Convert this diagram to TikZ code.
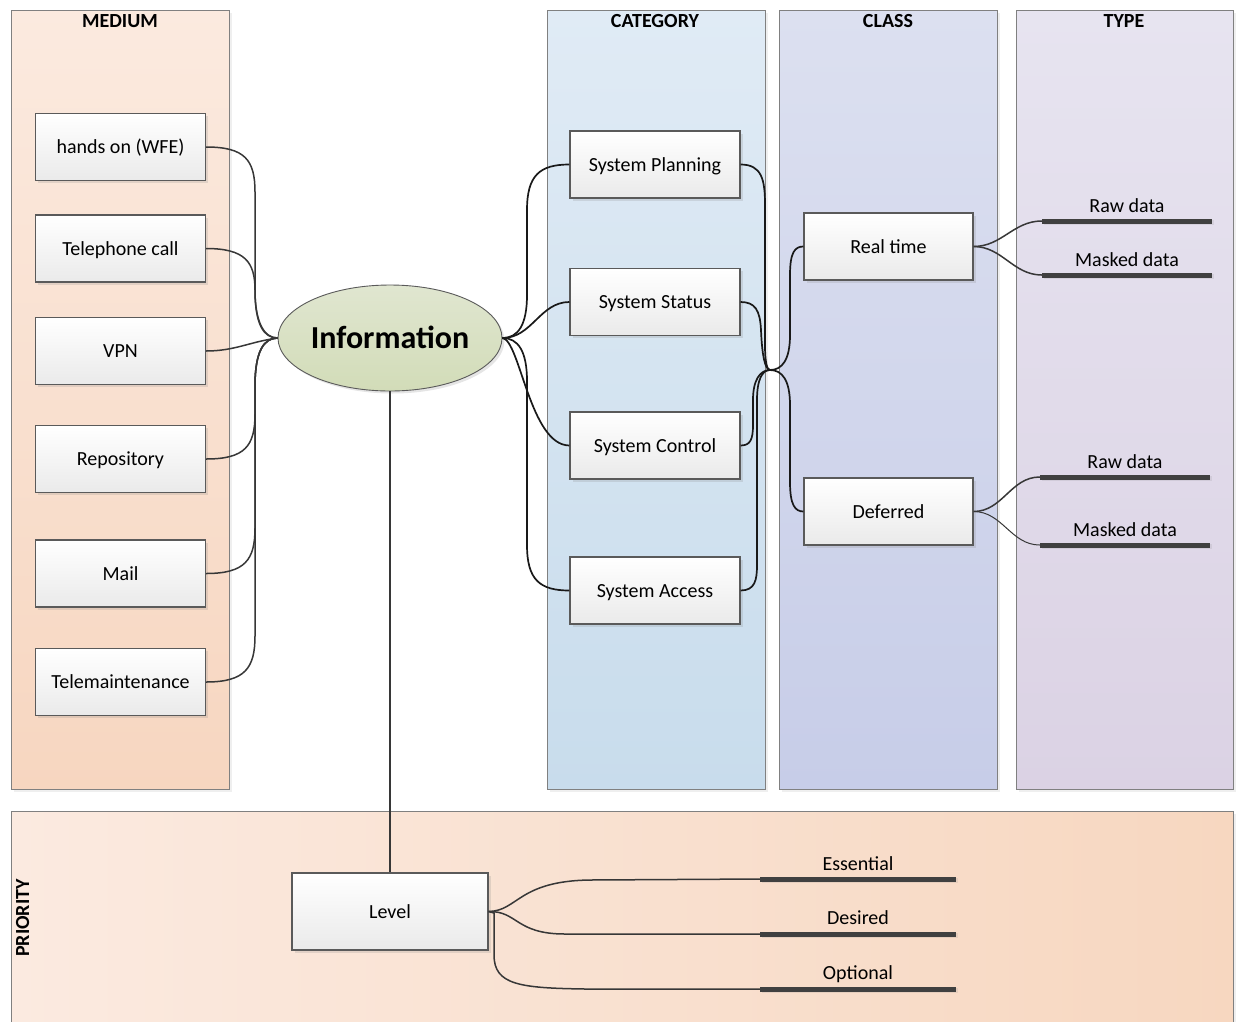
\documentclass[tikz,border=0pt]{standalone}
\usepackage{fontspec}
\setmainfont{Carlito}
\usetikzlibrary{shadows,calc,shapes.geometric}
\definecolor{medTop}{RGB}{251,234,223}
\definecolor{medBot}{RGB}{247,214,192}
\definecolor{catTop}{RGB}{224,235,245}
\definecolor{catBot}{RGB}{200,220,236}
\definecolor{clsTop}{RGB}{220,224,240}
\definecolor{clsBot}{RGB}{199,205,232}
\definecolor{typTop}{RGB}{231,228,240}
\definecolor{typBot}{RGB}{219,210,228}
\definecolor{priL}{RGB}{251,234,224}
\definecolor{priR}{RGB}{247,215,192}
\definecolor{ellTop}{RGB}{224,230,208}
\definecolor{ellBot}{RGB}{210,220,184}
\definecolor{boxBot}{RGB}{234,234,234}
\definecolor{edgeGray}{RGB}{90,90,90}
\definecolor{laneEdge}{RGB}{128,128,128}
\definecolor{wireGray}{RGB}{55,55,55}
\definecolor{barGray}{RGB}{64,64,64}
\begin{document}
\begin{tikzpicture}[x=1pt,y=-1pt,font=\fontsize{20}{24}\selectfont,
  lane/.style={draw=laneEdge, line width=0.9pt, anchor=north west, inner sep=0pt,
    drop shadow={shadow xshift=3pt, shadow yshift=-3pt, opacity=0.12}},
  lanehead/.style={font=\fontsize{20}{24}\selectfont\bfseries, anchor=base},
  itembox/.style={draw=edgeGray, line width=1.1pt, top color=white, bottom color=boxBot,
    minimum width=170pt, minimum height=67pt, inner sep=0pt, text height=13pt, text depth=0pt,
    drop shadow={shadow xshift=2.5pt, shadow yshift=-2.5pt, opacity=0.2}},
  barline/.style={fill=barGray, minimum width=170pt, minimum height=5pt, inner sep=0pt,
    drop shadow={shadow xshift=1.5pt, shadow yshift=-1.5pt, opacity=0.15}},
  barlabel/.style={anchor=base, inner sep=0pt},
  wire/.style={draw=wireGray, line width=1.5pt},
  wireb/.style={draw=black!90, line width=1.7pt}]
\useasboundingbox (0,0) rectangle (1237,1021);
\clip (0,0) rectangle (1237,1021);
\fill[white] (0,0) rectangle (1237,1021);

% lanes
\node[lane, minimum width=218pt, minimum height=779pt, top color=medTop, bottom color=medBot] (medium) at (11,10) {};
\node[lane, minimum width=218pt, minimum height=779pt, top color=catTop, bottom color=catBot] (category) at (547,10) {};
\node[lane, minimum width=218pt, minimum height=779pt, top color=clsTop, bottom color=clsBot] (class) at (779,10) {};
\node[lane, minimum width=217pt, minimum height=779pt, top color=typTop, bottom color=typBot] (type) at (1016,10) {};
\node[lane, minimum width=1222pt, minimum height=216pt, left color=priL, right color=priR] (priority) at (11,811) {};

\node[lanehead] (hmed) at (120,27.5) {MEDIUM};
\node[lanehead] (hcat) at (655,27.5) {CATEGORY};
\node[lanehead] (hcls) at (888,27.5) {CLASS};
\node[lanehead] (htyp) at (1124,27.5) {TYPE};
\node[lanehead, rotate=90] (hpri) at (29,918) {PRIORITY};

% medium boxes
\node[itembox] (m1) at (120.5,147) {hands on (WFE)};
\node[itembox] (m2) at (120.5,248.5) {Telephone call};
\node[itembox] (m3) at (120.5,351) {VPN};
\node[itembox] (m4) at (120.5,459) {Repository};
\node[itembox] (m5) at (120.5,573.5) {Mail};
\node[itembox] (m6) at (120.5,682) {Telemaintenance};

% central ellipse
\node[ellipse, draw=edgeGray, line width=0.9pt, top color=ellTop, bottom color=ellBot,
  minimum width=216pt, minimum height=106pt, inner sep=0pt, text height=21pt, text depth=0pt,
  drop shadow={shadow xshift=2.5pt, shadow yshift=-2.5pt, opacity=0.2},
  font=\fontsize{32}{38}\selectfont\bfseries] (info) at (390,338) {Information};

% category boxes
\node[itembox] (sp) at (655,164.5) {System Planning};
\node[itembox] (ss) at (655,302) {System Status};
\node[itembox] (sc) at (655,445.5) {System Control};
\node[itembox] (sa) at (655,590.5) {System Access};

% class boxes
\node[itembox, minimum width=169pt] (rt) at (888.5,246.5) {Real time};
\node[itembox, minimum width=169pt] (df) at (888.5,511.5) {Deferred};

% type bars
\node[barline] (t1) at (1127,221) {};
\node[barline] (t2) at (1127,275) {};
\node[barline] (t3) at (1125,477) {};
\node[barline] (t4) at (1125,545) {};
\node[barlabel] (l1) at (1127,212) {Raw data};
\node[barlabel] (l2) at (1127,266) {Masked data};
\node[barlabel] (l3) at (1125,468) {Raw data};
\node[barlabel] (l4) at (1125,536) {Masked data};

% priority
\node[itembox, minimum width=196pt, minimum height=77pt] (lvl) at (390,911.5) {Level};
\node[barline, minimum width=196pt] (ess) at (858,879) {};
\node[barline, minimum width=196pt] (des) at (858,934) {};
\node[barline, minimum width=196pt] (opt) at (858,989) {};
\node[barlabel] (le) at (858,870) {Essential};
\node[barlabel] (ld) at (858,924) {Desired};
\node[barlabel] (lo) at (858,979) {Optional};

% connectors medium -> information
\draw[wire] (m1.east) .. controls (245,147) and (255,160) .. (255,192) -- (255,290)
  .. controls (255,325) and (264,338) .. (info.west);
\draw[wire] (m2.east) .. controls (245,248.5) and (255,262) .. (255,290)
  .. controls (255,322) and (264,338) .. (info.west);
\draw[wire] (m3.east) to[out=0,in=188] (info.west);
\draw[wire] (m4.east) .. controls (245,459) and (255,446) .. (255,414) -- (255,386)
  .. controls (255,351) and (264,338) .. (info.west);
\draw[wire] (m5.east) .. controls (245,573.5) and (255,560) .. (255,528) -- (255,386)
  .. controls (255,351) and (264,338) .. (info.west);
\draw[wire] (m6.east) .. controls (245,682) and (255,668) .. (255,636) -- (255,386)
  .. controls (255,351) and (264,338) .. (info.west);

% information -> category
\draw[wireb] (info.east) .. controls (518,338) and (527,325) .. (527,295) -- (527,210)
  .. controls (527,175) and (540,164.5) .. (sp.west);
\draw[wireb] (info.east) to[out=0,in=180] (ss.west);
\draw[wireb] (info.east) .. controls (520,340) and (530,445.5) .. (sc.west);
\draw[wireb] (info.east) .. controls (518,338) and (527,351) .. (527,381) -- (527,545)
  .. controls (527,580) and (540,590.5) .. (sa.west);

% category -> class through junction
\coordinate (j) at (770,370);
\draw[wireb] (sp.east) .. controls (762,164.5) and (765,180) .. (765,205) -- (765,345)
  .. controls (765,362) and (767,370) .. (j);
\draw[wireb] (ss.east) .. controls (755,302) and (760,310) .. (761,330)
  .. controls (762,355) and (765,370) .. (j);
\draw[wireb] (sc.east) .. controls (750,445.5) and (753,440) .. (753,425) -- (753,400)
  .. controls (753,380) and (760,370) .. (j);
\draw[wireb] (sa.east) .. controls (755,590.5) and (757,580) .. (757,565) -- (757,400)
  .. controls (757,380) and (762,370) .. (j);
\draw[wireb] (j) .. controls (782,370) and (790,360) .. (790,335) -- (790,275)
  .. controls (790,252) and (795,246.5) .. (rt.west);
\draw[wireb] (j) .. controls (782,370) and (790,380) .. (790,405) -- (790,482)
  .. controls (790,505) and (795,511.5) .. (df.west);

% class -> type
\draw[wire] (rt.east) to[out=0,in=180] (t1.west);
\draw[wire] (rt.east) to[out=0,in=180] (t2.west);
\draw[wire] (df.east) to[out=0,in=180] (t3.west);
\draw[wire, line width=1pt] (df.east) to[out=0,in=180] (t4.west);

% information -> level
\draw[wire, line width=1.2pt] (info.south) -- (lvl.north);

% level -> priorities
\draw[wire] (lvl.east) .. controls (518,911) and (518,881) .. (590,880) -- (ess.west);
\draw[wire] (lvl.east) .. controls (518,911) and (515,934) .. (565,934) -- (des.west);
\draw[wire] (lvl.east) -- (494,913) -- (494,955) .. controls (494,985) and (520,988) .. (585,989) -- (opt.west);
\end{tikzpicture}
\end{document}
